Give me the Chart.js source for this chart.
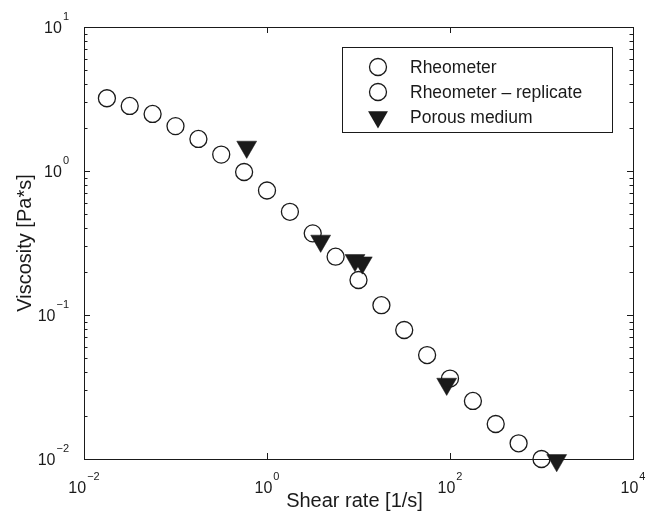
<!DOCTYPE html>
<html>
<head>
<meta charset="utf-8">
<title>Viscosity vs shear rate</title>
<script src="https://cdn.jsdelivr.net/npm/chart.js@4.4.1/dist/chart.umd.min.js"></script>
<style>
  body { margin: 0; background: #fff; }
  canvas { display: block; }
</style>
</head>
<body>
<canvas id="viscosityChart" width="648" height="515"></canvas>
<script>
// Rheometer, first run (shear rate [1/s], viscosity [Pa*s])
const shearRheo = [0.0178, 0.0316, 0.0562, 0.1, 0.178, 0.316, 0.562, 1, 1.78, 3.16, 5.62, 10];
const viscRheo  = [3.20, 2.83, 2.49, 2.05, 1.67, 1.30, 0.984, 0.732, 0.521, 0.369, 0.254, 0.175];

// Rheometer replicate
const shearRep = [17.8, 31.6, 56.2, 100, 178, 316, 562, 1000];
const viscRep  = [0.117, 0.0787, 0.0527, 0.0362, 0.0253, 0.0175, 0.01285, 0.0100];

// Porous medium
const shearPorous = [0.6, 3.86, 9.16, 11.0, 92.0, 1466];
const viscPorous  = [1.47, 0.327, 0.240, 0.231, 0.0332, 0.00979];

// Axis ticks
const xMajorTicks = [0.01, 1, 100, 10000];
const yMajorTicks = [0.01, 0.1, 1, 10];
const minorSteps = [2, 3, 4, 5, 6, 7, 8, 9];

const font = '"Liberation Sans", Arial, Helvetica, sans-serif';
const ink = '#1a1a1a';

function toPoints(xs, ys) {
    return xs.map((x, i) => ({ x: x, y: ys[i] }));
}

// exponent text, e.g. -2 -> "−2"
function expText(v) {
    const e = Math.round(Math.log10(v));
    return e < 0 ? '\u2212' + Math.abs(e) : String(e);
}

// draws "10" with a superscript exponent; align = 'center' or 'right'
function drawPow(ctx, v, x, baseY, align) {
    const big = '16px ' + font, small = '11px ' + font;
    const exp = expText(v);
    ctx.font = big;
    const wBase = ctx.measureText('10').width;
    ctx.font = small;
    const wExp = ctx.measureText(exp).width;
    const total = wBase + wExp + 1;
    let start = align === 'center' ? x - total / 2 : x - total;
    ctx.textAlign = 'left';
    ctx.textBaseline = 'alphabetic';
    ctx.font = big;
    ctx.fillText('10', start, baseY);
    ctx.font = small;
    ctx.fillText(exp, start + wBase + 1, baseY - 13);
}

const matlabAxes = {
    id: 'matlabAxes',
    beforeDatasetsDraw(chart) {
        const { ctx, chartArea: a, scales } = chart;
        const xs = scales.x, ys = scales.y;
        ctx.save();
        ctx.strokeStyle = ink;
        ctx.lineWidth = 1;
        ctx.strokeRect(Math.round(a.left) + 0.5, Math.round(a.top) + 0.5,
            Math.round(a.right - a.left), Math.round(a.bottom - a.top));

        ctx.beginPath();
        // x major ticks, bottom and top, pointing inward
        xMajorTicks.forEach(v => {
            const px = Math.round(xs.getPixelForValue(v)) + 0.5;
            ctx.moveTo(px, a.bottom); ctx.lineTo(px, a.bottom - 6);
            ctx.moveTo(px, a.top); ctx.lineTo(px, a.top + 6);
        });
        // y major and minor ticks, left and right
        yMajorTicks.forEach((v, i) => {
            const py = Math.round(ys.getPixelForValue(v)) + 0.5;
            ctx.moveTo(a.left, py); ctx.lineTo(a.left + 6, py);
            ctx.moveTo(a.right, py); ctx.lineTo(a.right - 6, py);
            if (i < yMajorTicks.length - 1) {
                minorSteps.forEach(m => {
                    const pm = Math.round(ys.getPixelForValue(v * m)) + 0.5;
                    ctx.moveTo(a.left, pm); ctx.lineTo(a.left + 3.5, pm);
                    ctx.moveTo(a.right, pm); ctx.lineTo(a.right - 3.5, pm);
                });
            }
        });
        ctx.stroke();
        ctx.restore();
    },
    afterDraw(chart) {
        const { ctx, chartArea: a, scales } = chart;
        const xs = scales.x, ys = scales.y;
        ctx.save();
        ctx.fillStyle = ink;

        // tick labels
        xMajorTicks.forEach(v => drawPow(ctx, v, xs.getPixelForValue(v), a.bottom + 34, 'center'));
        yMajorTicks.forEach(v => drawPow(ctx, v, a.left - 15, ys.getPixelForValue(v) + 6, 'right'));

        // axis titles
        ctx.font = '20px ' + font;
        ctx.textAlign = 'center';
        ctx.textBaseline = 'alphabetic';
        ctx.fillText('Shear rate [1/s]', (a.left + a.right) / 2 - 4, 507);
        ctx.save();
        ctx.translate(31, (a.top + a.bottom) / 2);
        ctx.rotate(-Math.PI / 2);
        ctx.fillText('Viscosity [Pa*s]', 0, 0);
        ctx.restore();

        // legend box
        const box = { left: 342, top: 47, right: 612, bottom: 132 };
        ctx.fillStyle = '#fff';
        ctx.fillRect(box.left, box.top, box.right - box.left, box.bottom - box.top);
        ctx.strokeStyle = ink;
        ctx.lineWidth = 1;
        ctx.strokeRect(box.left + 0.5, box.top + 0.5, box.right - box.left, box.bottom - box.top);

        const rowY = [67, 92, 117];
        const mx = 378;
        chart.data.datasets.forEach((ds, i) => {
            const y = rowY[i];
            ctx.beginPath();
            if (ds.pointStyle === 'triangle') {
                const r = ds.pointRadius;
                ctx.moveTo(mx, y + r);
                ctx.lineTo(mx - r * Math.sqrt(3) / 2, y - r / 2);
                ctx.lineTo(mx + r * Math.sqrt(3) / 2, y - r / 2);
                ctx.closePath();
                ctx.fillStyle = ink;
                ctx.fill();
            } else {
                ctx.arc(mx, y, ds.pointRadius, 0, Math.PI * 2);
                ctx.strokeStyle = ink;
                ctx.lineWidth = ds.borderWidth;
                ctx.stroke();
            }
            ctx.fillStyle = ink;
            ctx.font = '17.5px ' + font;
            ctx.textAlign = 'left';
            ctx.textBaseline = 'middle';
            ctx.fillText(ds.label, 410, y + 1);
        });
        ctx.restore();
    }
};

const circleStyle = {
    pointStyle: 'circle',
    pointRadius: 8.5,
    borderWidth: 1.3,
    borderColor: ink,
    backgroundColor: 'rgba(0,0,0,0)',
    showLine: false,
    clip: false
};

new Chart(document.getElementById('viscosityChart').getContext('2d'), {
    type: 'scatter',
    data: {
        datasets: [
            Object.assign({ label: 'Rheometer', data: toPoints(shearRheo, viscRheo) }, circleStyle),
            Object.assign({ label: 'Rheometer \u2013 replicate', data: toPoints(shearRep, viscRep) }, circleStyle),
            {
                label: 'Porous medium',
                data: toPoints(shearPorous, viscPorous),
                pointStyle: 'triangle',
                pointRotation: 180,
                pointRadius: 11.5,
                borderWidth: 0.5,
                borderColor: ink,
                backgroundColor: ink,
                showLine: false,
                clip: false
            }
        ]
    },
    options: {
        responsive: false,
        animation: false,
        layout: { padding: { left: 84, right: 15, top: 27, bottom: 56 } },
        scales: {
            x: { type: 'logarithmic', min: 0.01, max: 10000, display: false },
            y: { type: 'logarithmic', min: 0.01, max: 10, display: false }
        },
        plugins: {
            legend: { display: false },
            tooltip: { enabled: false }
        },
        elements: { point: { hoverRadius: 8.5 } }
    },
    plugins: [matlabAxes]
});
</script>
</body>
</html>
